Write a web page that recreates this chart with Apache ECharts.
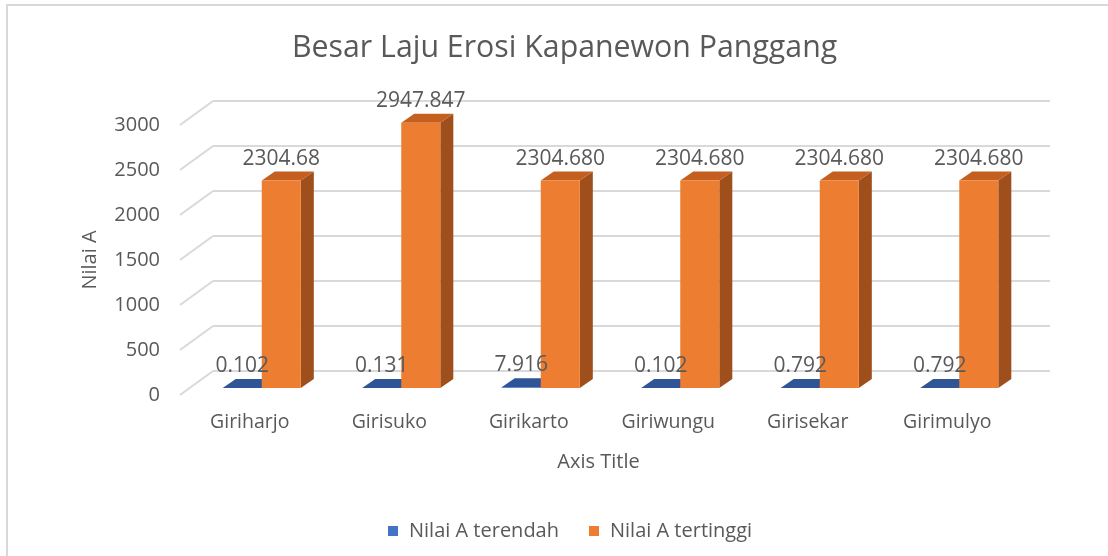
<!DOCTYPE html>
<html>
<head>
<meta charset="utf-8">
<script src="https://cdn.jsdelivr.net/npm/echarts@6/dist/echarts.min.js"></script>
<style>
  html, body { margin: 0; padding: 0; background: #fff; }
  #chart { width: 1108px; height: 556px; }
</style>
</head>
<body>
<div id="chart"></div>
<script>
const categories = ["Giriharjo", "Girisuko", "Girikarto", "Giriwungu", "Girisekar", "Girimulyo"];
const lowValues = [0.102, 0.131, 7.916, 0.102, 0.792, 0.792];
const highValues = [2304.68, 2947.847, 2304.68, 2304.68, 2304.68, 2304.68];
const lowLabels = ["0.102", "0.131", "7.916", "0.102", "0.792", "0.792"];
const highLabels = ["2304.68", "2947.847", "2304.680", "2304.680", "2304.680", "2304.680"];
const yTicks = [0, 500, 1000, 1500, 2000, 2500, 3000];

const textColor = "#595959";
const gridColor = "#d9d9d9";
const font = "Open Sans";

// depth of the bars and of the walls, in pixels
const barDx = 13, barDy = -9;
const wallDx = 33, wallDy = -24;

function bar3d(side, front, sideColor, topColor) {
  return function (params, api) {
    const i = api.value(0);
    const base = api.coord([i, 0]);
    const top = api.coord([i, api.value(1)]);
    const w = api.size([1, 0])[0] * 0.28;
    const x = side < 0 ? base[0] - w : base[0];
    const y0 = base[1], y1 = top[1];
    return {
      type: "group",
      children: [
        {
          type: "polygon",
          shape: { points: [[x + w, y1], [x + w + barDx, y1 + barDy], [x + w + barDx, y0 + barDy], [x + w, y0]] },
          style: { fill: sideColor }
        },
        {
          type: "polygon",
          shape: { points: [[x, y1], [x + barDx, y1 + barDy], [x + w + barDx, y1 + barDy], [x + w, y1]] },
          style: { fill: topColor }
        },
        {
          type: "rect",
          shape: { x: x, y: y1, width: w, height: y0 - y1 },
          style: { fill: front }
        }
      ]
    };
  };
}

function labelItem(params, api) {
  const i = api.value(0);
  const w = api.size([1, 0])[0] * 0.28;
  const lowTop = api.coord([i, api.value(1)]);
  const highTop = api.coord([i, api.value(2)]);
  const st = { fill: textColor, fontSize: 21, fontFamily: font, align: "center", verticalAlign: "middle" };
  return {
    type: "group",
    children: [
      { type: "text", x: lowTop[0] - w / 2, y: lowTop[1] - 22, style: Object.assign({ text: lowLabels[i] }, st) },
      { type: "text", x: highTop[0] + w / 2, y: highTop[1] - 22, style: Object.assign({ text: highLabels[i] }, st) }
    ]
  };
}

function diagItem(params, api) {
  const cs = params.coordSys;
  const p = api.coord([0, api.value(0)]);
  return {
    type: "line",
    shape: { x1: cs.x, y1: p[1], x2: cs.x + wallDx, y2: p[1] + wallDy },
    style: { stroke: gridColor, lineWidth: 2 }
  };
}

const chart = echarts.init(document.getElementById("chart"));

const yBase = { type: "value", min: 0, max: 3000, interval: 500 };

chart.setOption({
  animation: false,
  backgroundColor: "#fff",
  textStyle: { fontFamily: font, color: textColor },
  graphic: [
    {
      type: "rect",
      shape: { x: 7, y: 5, width: 1120, height: 580 },
      style: { fill: "none", stroke: gridColor, lineWidth: 2 },
      silent: true
    }
  ],
  title: {
    text: "Besar Laju Erosi Kapanewon Panggang",
    left: 287,
    top: 28,
    textStyle: { fontFamily: font, fontSize: 30.3, fontWeight: "normal", color: textColor }
  },
  legend: {
    left: 383,
    top: 516,
    itemWidth: 10,
    itemHeight: 10,
    itemGap: 30,
    icon: "rect",
    textStyle: { fontSize: 20, color: textColor, fontFamily: font, padding: [0, 0, 0, 6] },
    data: ["Nilai A terendah", "Nilai A tertinggi"]
  },
  grid: [
    // front plane: axis labels
    { left: 180, top: 125, width: 837, height: 270 },
    // back wall: gridlines
    { left: 213, top: 101, width: 837, height: 270 },
    // plane of the bars
    { left: 192, top: 118, width: 837, height: 270 }
  ],
  xAxis: [
    {
      gridIndex: 0, type: "category", data: categories,
      axisLine: { show: false }, axisTick: { show: false },
      axisLabel: { fontSize: 19.5, color: textColor, margin: 17 },
      name: "Axis Title", nameLocation: "middle", nameGap: 57,
      nameTextStyle: { fontSize: 20, color: textColor }
    },
    { gridIndex: 1, type: "category", data: categories, show: false },
    { gridIndex: 2, type: "category", data: categories, show: false }
  ],
  yAxis: [
    Object.assign({}, yBase, {
      gridIndex: 0,
      axisLine: { show: false }, axisTick: { show: false }, splitLine: { show: false },
      axisLabel: { fontSize: 20, color: textColor, margin: 20, formatter: (v) => String(v) },
      name: "Nilai A", nameLocation: "middle", nameGap: 80, nameRotate: 90,
      nameTextStyle: { fontSize: 20, color: textColor }
    }),
    Object.assign({}, yBase, {
      gridIndex: 1,
      axisLine: { show: false }, axisTick: { show: false }, axisLabel: { show: false },
      splitLine: { show: true, lineStyle: { color: gridColor, width: 2 } }
    }),
    Object.assign({}, yBase, { gridIndex: 2, show: false })
  ],
  series: [
    {
      type: "custom", name: "wall", xAxisIndex: 0, yAxisIndex: 0,
      data: yTicks.map((v) => [v]),
      encode: { y: 0 },
      renderItem: diagItem, silent: true, z: 1
    },
    {
      type: "custom", name: "Nilai A terendah", xAxisIndex: 2, yAxisIndex: 2,
      data: lowValues.map((v, i) => [i, v]),
      itemStyle: { color: "#4472C4" },
      renderItem: bar3d(-1, "#4472C4", "#2F528F", "#2F5597"), z: 2
    },
    {
      type: "custom", name: "Nilai A tertinggi", xAxisIndex: 2, yAxisIndex: 2,
      data: highValues.map((v, i) => [i, v]),
      itemStyle: { color: "#ED7D31" },
      renderItem: bar3d(1, "#ED7D31", "#9E4F1C", "#C55F1F"), z: 3
    },
    {
      type: "custom", name: "labels", xAxisIndex: 2, yAxisIndex: 2,
      data: lowValues.map((v, i) => [i, v, highValues[i]]),
      renderItem: labelItem, silent: true, z: 4
    }
  ]
});
</script>
</body>
</html>
